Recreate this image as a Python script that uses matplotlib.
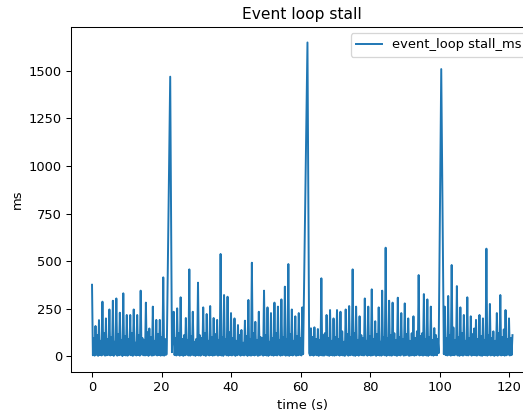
import numpy as np
import matplotlib
matplotlib.use("Agg")
import matplotlib.pyplot as plt

sample_interval_s = 0.25

stall_ms = [
    375, 4, 95, 2, 158, 6, 110, 1, 189, 5, 80, 3, 286, 7, 120, 2, 198, 4, 90, 6,
    245, 3, 100, 5, 291, 1, 75, 8, 303, 2, 115, 4, 228, 6, 85, 0, 330, 5, 105, 3,
    216, 2, 90, 7, 216, 4, 120, 1, 245, 6, 70, 3, 216, 5, 110, 2, 344, 8, 95, 4,
    85, 3, 281, 5, 125, 1, 145, 6, 100, 2, 260, 4, 80, 7, 190, 3, 115, 5, 190, 2,
    100, 4, 414, 2, 90, 6, 10, 375, 740, 1105, 1470, 745, 20, 100, 233, 5, 95, 3, 251, 6,
    120, 2, 309, 5, 90, 1, 110, 4, 200, 7, 85, 3, 456, 2, 105, 6, 233, 4, 75, 1,
    90, 5, 386, 3, 110, 2, 95, 7, 256, 4, 120, 1, 221, 6, 80, 3, 263, 5, 100, 2,
    200, 4, 115, 6, 190, 2, 85, 5, 537, 3, 100, 1, 321, 7, 90, 4, 312, 2, 125, 5,
    226, 3, 95, 6, 198, 1, 80, 4, 163, 7, 110, 2, 137, 5, 70, 3, 186, 6, 105, 1,
    295, 4, 90, 2, 491, 5, 120, 3, 180, 6, 85, 1, 233, 4, 100, 7, 95, 2, 344, 5,
    110, 3, 256, 1, 75, 6, 226, 4, 95, 2, 281, 5, 120, 3, 260, 7, 85, 2, 298, 4,
    100, 6, 365, 2, 90, 4, 484, 1, 115, 5, 245, 3, 80, 7, 209, 2, 105, 4, 226, 6,
    95, 3, 256, 10, 338, 666, 994, 1322, 1650, 830, 15, 3, 146, 5, 100, 2, 151, 6, 90, 4,
    142, 1, 85, 5, 409, 3, 110, 2, 120, 6, 216, 4, 95, 1, 242, 5, 80, 3, 198, 2,
    100, 4, 242, 6, 90, 2, 233, 5, 130, 3, 75, 1, 245, 7, 115, 2, 263, 4, 100, 6,
    456, 3, 120, 1, 260, 5, 85, 2, 209, 6, 110, 4, 95, 3, 303, 7, 80, 2, 260, 5,
    105, 2, 351, 4, 90, 6, 183, 1, 115, 5, 256, 3, 75, 2, 344, 6, 100, 4, 570, 1,
    95, 5, 291, 3, 110, 2, 281, 6, 120, 4, 85, 1, 307, 5, 100, 3, 226, 7, 90, 2,
    277, 4, 115, 6, 198, 1, 80, 3, 120, 5, 209, 2, 95, 4, 130, 7, 426, 3, 105, 5,
    120, 2, 326, 5, 90, 3, 298, 1, 100, 6, 260, 4, 85, 2, 147, 5, 110, 4, 90, 15,
    513, 1012, 1510, 1010, 510, 10, 260, 5, 95, 3, 316, 6, 110, 2, 479, 5, 150, 4, 85, 7,
    368, 3, 100, 1, 256, 5, 120, 2, 216, 6, 80, 4, 309, 3, 95, 7, 209, 2, 115, 5,
    145, 4, 190, 2, 90, 6, 216, 3, 105, 1, 198, 5, 85, 4, 565, 2, 110, 6, 274, 3,
    95, 5, 130, 1, 80, 4, 226, 2, 120, 6, 321, 3, 100, 5, 140, 2, 242, 4, 90, 7,
    198, 3, 95, 5, 110,
]
time_s = np.arange(len(stall_ms)) * sample_interval_s

DPI = 93.3
fig = plt.figure(figsize=(523 / DPI, 416 / DPI), dpi=DPI)
ax = fig.add_axes([71 / 523, 44.3 / 416, 462.5 / 523, 344.9 / 416])
ax.plot(time_s, stall_ms, label="event_loop stall_ms")
ax.set_title("Event loop stall")
ax.set_xlabel("time (s)")
ax.set_ylabel("ms")
ax.legend(loc="upper right")
fig.savefig("out.png", dpi=DPI)
